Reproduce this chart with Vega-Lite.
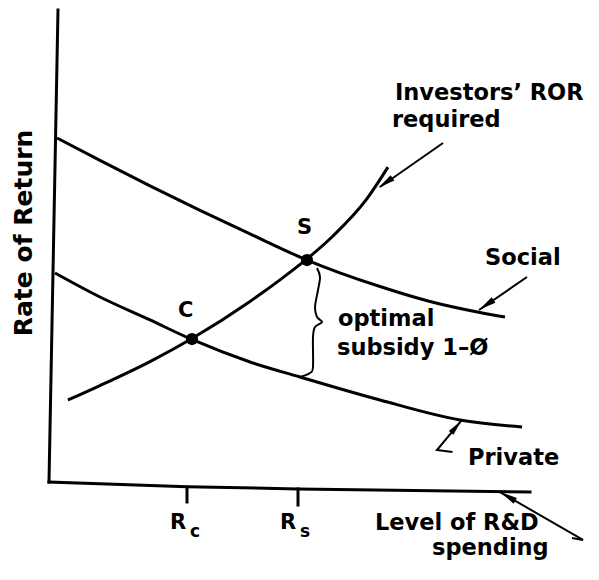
{
  "$schema": "https://vega.github.io/schema/vega-lite/v6.json",
  "autosize": {"type": "fit", "contains": "padding"},
  "width": 599,
  "height": 580,
  "padding": 0,
  "background": "white",
  "config": {"view": {"stroke": null}},
  "datasets": {
    "frame": [
      {"part": "yaxis", "ord": 1, "x": 9.68, "y": 98.28},
      {"part": "yaxis", "ord": 2, "x": 8.18, "y": 16.90},
      {"part": "xaxis", "ord": 1, "x": 8.18, "y": 16.90},
      {"part": "xaxis", "ord": 2, "x": 31.22, "y": 16.09},
      {"part": "xaxis", "ord": 3, "x": 49.75, "y": 15.69},
      {"part": "xaxis", "ord": 4, "x": 88.48, "y": 15.17},
      {"part": "tickC", "ord": 1, "x": 31.22, "y": 16.03},
      {"part": "tickC", "ord": 2, "x": 31.22, "y": 13.45},
      {"part": "tickS", "ord": 1, "x": 49.75, "y": 15.69},
      {"part": "tickS", "ord": 2, "x": 49.75, "y": 12.93}
    ],
    "curves": [
      {"curve": "Social", "x": 9.52, "y": 76.21},
      {"curve": "Social", "x": 16.69, "y": 72.34},
      {"curve": "Social", "x": 25.04, "y": 67.95},
      {"curve": "Social", "x": 33.39, "y": 63.72},
      {"curve": "Social", "x": 41.74, "y": 59.67},
      {"curve": "Social", "x": 51.25, "y": 55.17},
      {"curve": "Social", "x": 63.44, "y": 50.60},
      {"curve": "Social", "x": 71.79, "y": 48.02},
      {"curve": "Social", "x": 80.13, "y": 46.12},
      {"curve": "Social", "x": 84.31, "y": 45.34},
      {"curve": "Private", "x": 9.18, "y": 52.93},
      {"curve": "Private", "x": 16.69, "y": 48.79},
      {"curve": "Private", "x": 25.04, "y": 44.83},
      {"curve": "Private", "x": 32.22, "y": 41.38},
      {"curve": "Private", "x": 41.74, "y": 37.59},
      {"curve": "Private", "x": 50.08, "y": 35.00},
      {"curve": "Private", "x": 63.44, "y": 31.03},
      {"curve": "Private", "x": 76.79, "y": 27.59},
      {"curve": "Private", "x": 87.15, "y": 26.38},
      {"curve": "Investors", "x": 11.35, "y": 31.03},
      {"curve": "Investors", "x": 16.69, "y": 33.52},
      {"curve": "Investors", "x": 25.04, "y": 37.66},
      {"curve": "Investors", "x": 32.05, "y": 41.64},
      {"curve": "Investors", "x": 41.74, "y": 48.03},
      {"curve": "Investors", "x": 47.25, "y": 52.14},
      {"curve": "Investors", "x": 51.25, "y": 55.36},
      {"curve": "Investors", "x": 55.59, "y": 59.31},
      {"curve": "Investors", "x": 61.27, "y": 65.76},
      {"curve": "Investors", "x": 64.77, "y": 71.19}
    ],
    "brace": [
      {"ord": 1, "x": 52.92, "y": 53.79},
      {"ord": 2, "x": 53.42, "y": 52.24},
      {"ord": 3, "x": 53.09, "y": 50.00},
      {"ord": 4, "x": 52.59, "y": 47.07},
      {"ord": 5, "x": 52.92, "y": 45.34},
      {"ord": 6, "x": 53.76, "y": 44.48},
      {"ord": 7, "x": 52.59, "y": 43.62},
      {"ord": 8, "x": 52.25, "y": 41.90},
      {"ord": 9, "x": 52.25, "y": 36.72},
      {"ord": 10, "x": 51.75, "y": 35.69},
      {"ord": 11, "x": 50.08, "y": 35.00}
    ],
    "shafts": [
      {"arrow": "investors", "ord": 1, "x": 73.96, "y": 75.34},
      {"arrow": "investors", "ord": 2, "x": 63.44, "y": 67.76},
      {"arrow": "social", "ord": 1, "x": 87.98, "y": 52.24},
      {"arrow": "social", "ord": 2, "x": 79.97, "y": 46.55},
      {"arrow": "private", "ord": 1, "x": 77.13, "y": 27.59},
      {"arrow": "private", "ord": 2, "x": 72.95, "y": 22.41},
      {"arrow": "private", "ord": 3, "x": 75.54, "y": 22.07},
      {"arrow": "level", "ord": 1, "x": 83.47, "y": 15.17},
      {"arrow": "level", "ord": 2, "x": 97.33, "y": 6.90},
      {"arrow": "level", "ord": 3, "x": 95.49, "y": 7.24}
    ],
    "heads": [
      {"arrow": "investors", "x": 64.34, "y": 68.47},
      {"arrow": "social", "x": 81.20, "y": 47.43},
      {"arrow": "private", "x": 76.16, "y": 26.40},
      {"arrow": "level", "x": 84.77, "y": 14.40}
    ],
    "dots": [
      {"point": "C", "x": 32.05, "y": 41.55},
      {"point": "S", "x": 51.25, "y": 55.17}
    ],
    "labels": [
      {"text": "Investors’ ROR", "x": 65.94, "y": 82.76},
      {"text": "required", "x": 65.44, "y": 78.10},
      {"text": "Social", "x": 80.97, "y": 54.31},
      {"text": "optimal", "x": 56.43, "y": 43.79},
      {"text": "subsidy 1–Ø", "x": 56.26, "y": 38.79},
      {"text": "Private", "x": 78.13, "y": 19.83},
      {"text": "Level of R&D", "x": 62.60, "y": 8.62},
      {"text": "spending", "x": 72.12, "y": 4.31}
    ],
    "pointlabels": [
      {"text": "C", "x": 29.72, "y": 45.34},
      {"text": "S", "x": 49.58, "y": 59.66},
      {"text": "R", "x": 28.38, "y": 8.79},
      {"text": "R", "x": 46.74, "y": 8.79}
    ],
    "subs": [
      {"text": "c", "x": 31.72, "y": 7.41},
      {"text": "s", "x": 50.08, "y": 7.41}
    ],
    "ylabel": [
      {"text": "Rate of Return", "x": 4.01, "y": 59.83}
    ]
  },
  "encoding": {
    "x": {"field": "x", "type": "quantitative", "scale": {"domain": [0, 100], "nice": false, "zero": false}, "axis": null},
    "y": {"field": "y", "type": "quantitative", "scale": {"domain": [0, 100], "nice": false, "zero": false}, "axis": null}
  },
  "layer": [
    {
      "data": {"name": "frame"},
      "mark": {"type": "line", "color": "black", "strokeWidth": 3, "strokeCap": "square"},
      "encoding": {"detail": {"field": "part"}, "order": {"field": "ord"}}
    },
    {
      "data": {"name": "curves"},
      "mark": {"type": "line", "color": "black", "strokeWidth": 3, "interpolate": "monotone"},
      "encoding": {"detail": {"field": "curve"}, "order": {"field": "x"}}
    },
    {
      "data": {"name": "brace"},
      "mark": {"type": "line", "color": "black", "strokeWidth": 2, "interpolate": "cardinal"},
      "encoding": {"order": {"field": "ord"}}
    },
    {
      "data": {"name": "shafts"},
      "mark": {"type": "line", "color": "black", "strokeWidth": 2},
      "encoding": {"detail": {"field": "arrow"}, "order": {"field": "ord"}}
    },
    {
      "data": {"name": "heads"},
      "transform": [{"filter": "datum.arrow === 'investors' || datum.arrow === 'social'"}],
      "mark": {"type": "point", "filled": true, "color": "black", "opacity": 1, "shape": "M0,-1L0.38,1L-0.38,1Z", "size": 300, "angle": 235}
    },
    {
      "data": {"name": "heads"},
      "transform": [{"filter": "datum.arrow === 'private'"}],
      "mark": {"type": "point", "filled": true, "color": "black", "opacity": 1, "shape": "M0,-1L0.38,1L-0.38,1Z", "size": 250, "angle": 40}
    },
    {
      "data": {"name": "heads"},
      "transform": [{"filter": "datum.arrow === 'level'"}],
      "mark": {"type": "point", "filled": true, "color": "black", "opacity": 1, "shape": "M0,-1L0.38,1L-0.38,1Z", "size": 300, "angle": 300}
    },
    {
      "data": {"name": "dots"},
      "mark": {"type": "point", "filled": true, "color": "black", "opacity": 1, "shape": "circle", "size": 150}
    },
    {
      "data": {"name": "labels"},
      "mark": {"type": "text", "align": "left", "baseline": "alphabetic", "font": "DejaVu Sans", "fontWeight": "bold", "fontSize": 22.5, "color": "black"},
      "encoding": {"text": {"field": "text"}}
    },
    {
      "data": {"name": "pointlabels"},
      "mark": {"type": "text", "align": "left", "baseline": "alphabetic", "font": "DejaVu Sans", "fontWeight": "bold", "fontSize": 21, "color": "black"},
      "encoding": {"text": {"field": "text"}}
    },
    {
      "data": {"name": "subs"},
      "mark": {"type": "text", "align": "left", "baseline": "alphabetic", "font": "DejaVu Sans", "fontWeight": "bold", "fontSize": 17, "color": "black"},
      "encoding": {"text": {"field": "text"}}
    },
    {
      "data": {"name": "ylabel"},
      "mark": {"type": "text", "align": "center", "baseline": "middle", "angle": 270, "font": "DejaVu Sans", "fontWeight": "bold", "fontSize": 25, "color": "black"},
      "encoding": {"text": {"field": "text"}}
    }
  ]
}
